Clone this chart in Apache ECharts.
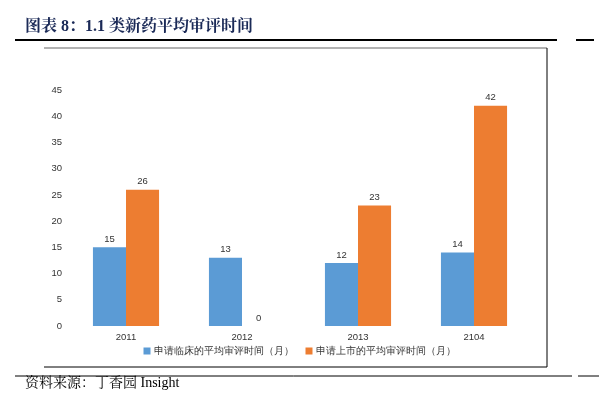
<!DOCTYPE html>
<html>
<head>
<meta charset="utf-8">
<script src="https://cdn.jsdelivr.net/npm/echarts@6/dist/echarts.min.js"></script>
<style>
  html, body { margin: 0; padding: 0; background: #fff; }
  #chart { width: 599px; height: 398px; }
</style>
</head>
<body>
<div id="chart"></div>
<script>
// 数据
const years = ['2011', '2012', '2013', '2104'];
const clinicalMonths = [15, 13, 12, 14];
const marketMonths = [26, 0, 23, 42];
const yTicks = [0, 45, 5]; // min, max, interval

const chart = echarts.init(document.getElementById('chart'));

const labelStyle = {
  show: true,
  position: 'top',
  fontSize: 9.5,
  color: '#333',
  distance: 3,
};

const options = {
  backgroundColor: '#fff',
  animation: false,
  title: {
    text: '图表 8：1.1 类新药平均审评时间',
    left: 20,
    top: 14,
    textStyle: {
      fontFamily: '"Liberation Serif", "Noto Serif CJK SC", "Noto Sans CJK SC", serif',
      fontWeight: 'bold',
      fontSize: 16,
      color: '#1b2a57',
    },
  },
  graphic: [
    // 标题下划线
    { type: 'line', shape: { x1: 15, y1: 40, x2: 557, y2: 40 }, style: { stroke: '#000', lineWidth: 2 } },
    { type: 'line', shape: { x1: 576, y1: 40, x2: 594, y2: 40 }, style: { stroke: '#000', lineWidth: 2 } },
    // 图框
    { type: 'line', shape: { x1: 44, y1: 48, x2: 547, y2: 48 }, style: { stroke: '#999', lineWidth: 1.5 } },
    { type: 'line', shape: { x1: 547, y1: 48, x2: 547, y2: 367 }, style: { stroke: '#000', lineWidth: 1 } },
    { type: 'line', shape: { x1: 44, y1: 367, x2: 547, y2: 367 }, style: { stroke: '#000', lineWidth: 1 } },
    // 来源上方的线
    { type: 'line', shape: { x1: 15, y1: 376, x2: 572, y2: 376 }, style: { stroke: '#000', lineWidth: 1 } },
    { type: 'line', shape: { x1: 578, y1: 376, x2: 599, y2: 376 }, style: { stroke: '#000', lineWidth: 1 } },
    {
      type: 'text',
      left: 25,
      top: 376,
      style: {
        text: '资料来源：丁香园 Insight',
        fontFamily: '"Liberation Serif", "Noto Serif CJK SC", "Noto Sans CJK SC", serif',
        fontSize: 14,
        fill: '#000',
      },
    },
  ],
  legend: {
    bottom: 37,
    left: 'center',
    itemWidth: 7,
    itemHeight: 7,
    itemGap: 12,
    icon: 'rect',
    textStyle: { fontSize: 9.5, color: '#333', padding: [0, 0, 0, -2] },
  },
  grid: {
    left: 68,
    right: 67,
    top: 90,
    bottom: 72,
  },
  xAxis: {
    type: 'category',
    data: years,
    axisLine: { show: false },
    axisTick: { show: false },
    axisLabel: { fontSize: 9.5, color: '#333', margin: 6 },
  },
  yAxis: {
    type: 'value',
    min: yTicks[0],
    max: yTicks[1],
    interval: yTicks[2],
    splitLine: { show: false },
    axisLine: { show: false },
    axisTick: { show: false },
    axisLabel: { fontSize: 9.5, color: '#333', margin: 6 },
  },
  series: [
    {
      name: '申请临床的平均审评时间（月）',
      type: 'bar',
      data: clinicalMonths,
      barGap: '0%',
      barCategoryGap: '43%',
      itemStyle: { color: '#5b9bd5' },
      label: labelStyle,
    },
    {
      name: '申请上市的平均审评时间（月）',
      type: 'bar',
      data: marketMonths,
      itemStyle: { color: '#ed7d31' },
      label: labelStyle,
    },
  ],
};

chart.setOption(options);
</script>
</body>
</html>
